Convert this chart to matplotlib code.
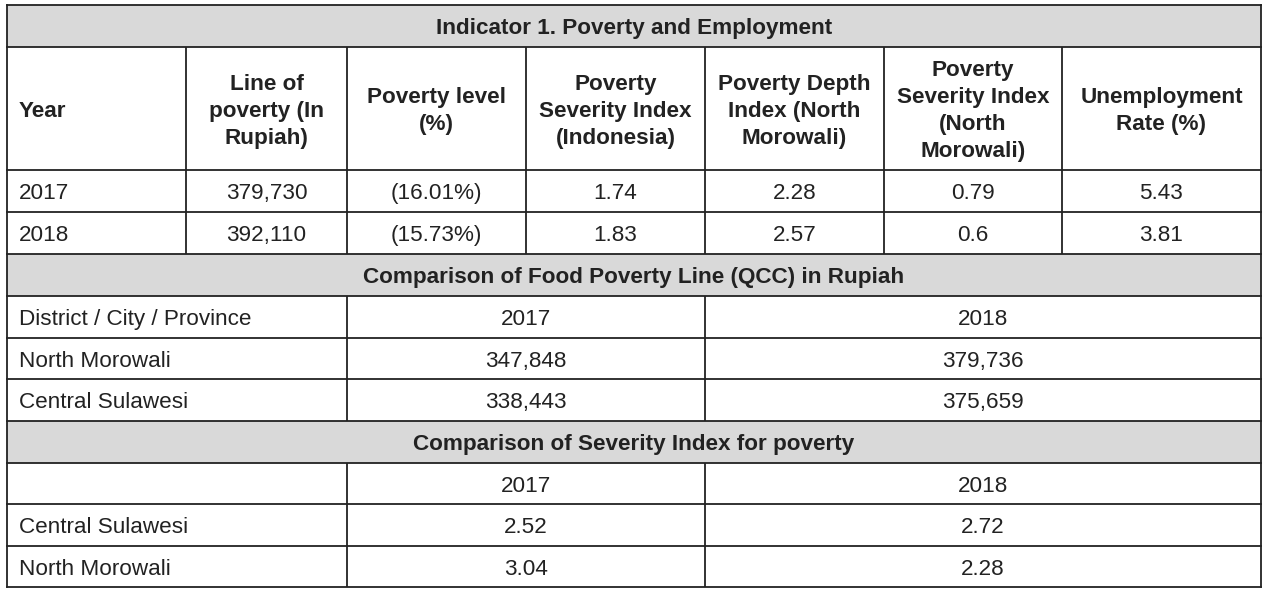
import matplotlib
matplotlib.use("Agg")
import matplotlib.pyplot as plt
from matplotlib.patches import Rectangle

plt.rcParams['font.family'] = ['Liberation Sans', 'DejaVu Sans']

# --- data ---
title1 = "Indicator 1. Poverty and Employment"
headers1 = ["Year", "Line of\npoverty (In\nRupiah)", "Poverty level\n(%)",
            "Poverty\nSeverity Index\n(Indonesia)", "Poverty Depth\nIndex (North\nMorowali)",
            "Poverty\nSeverity Index\n(North\nMorowali)", "Unemployment\nRate (%)"]
years = ["2017", "2018"]
line_of_poverty = ["379,730", "392,110"]
poverty_level = ["(16.01%)", "(15.73%)"]
severity_indonesia = ["1.74", "1.83"]
depth_north_morowali = ["2.28", "2.57"]
severity_north_morowali = ["0.79", "0.6"]
unemployment = ["5.43", "3.81"]

title2 = "Comparison of Food Poverty Line (QCC) in Rupiah"
header2 = ["District / City / Province", "2017", "2018"]
regions2 = ["North Morowali", "Central Sulawesi"]
fpl_2017 = ["347,848", "338,443"]
fpl_2018 = ["379,736", "375,659"]

title3 = "Comparison of Severity Index for poverty"
header3 = ["", "2017", "2018"]
regions3 = ["Central Sulawesi", "North Morowali"]
sev_2017 = ["2.52", "3.04"]
sev_2018 = ["2.72", "2.28"]

# --- layout (pixels) ---
W, H = 1269, 596
cols1 = [7, 186, 347, 526, 705, 884, 1062, 1261]
cols2 = [7, 347, 705, 1261]
rows = [5, 47, 170, 212, 254, 296, 338, 379, 421, 463, 504, 546, 587]
fs = 16.2
ink = "#222222"
grey = "#d9d9d9"
lw = 1.3
line_gap = 27   # px between baselines in multi-line headers
base_off = 8.3  # baseline below the row centre

fig = plt.figure(figsize=(W / 100, H / 100), dpi=100)
ax = fig.add_axes([0, 0, 1, 1])
ax.set_xlim(0, W)
ax.set_ylim(H, 0)
ax.axis("off")


def put(x, yc, text, ha, bold):
    lines = text.split("\n")
    n = len(lines)
    for i, s in enumerate(lines):
        y = yc + base_off + (i - (n - 1) / 2) * line_gap
        ax.text(x, y, s, ha=ha, va="baseline", fontsize=fs, color=ink,
                fontweight="bold" if bold else "normal")


def band(r, text):
    y0, y1 = rows[r], rows[r + 1]
    ax.add_patch(Rectangle((cols1[0], y0), cols1[-1] - cols1[0], y1 - y0,
                           facecolor=grey, edgecolor="none"))
    put((cols1[0] + cols1[-1]) / 2, (y0 + y1) / 2, text, "center", True)


def row_cells(r, cols, values, bold=False):
    y0, y1 = rows[r], rows[r + 1]
    for i, v in enumerate(values):
        if i == 0:
            put(cols[0] + 12, (y0 + y1) / 2, v, "left", bold)
        else:
            put((cols[i] + cols[i + 1]) / 2, (y0 + y1) / 2, v, "center", bold)
    for c in cols[1:-1]:
        ax.plot([c, c], [y0, y1], color=ink, lw=lw, solid_capstyle="butt")


# section 1
band(0, title1)
row_cells(1, cols1, headers1, bold=True)
for k in range(2):
    row_cells(2 + k, cols1, [years[k], line_of_poverty[k], poverty_level[k],
                             severity_indonesia[k], depth_north_morowali[k],
                             severity_north_morowali[k], unemployment[k]])

# section 2
band(4, title2)
row_cells(5, cols2, header2)
for k in range(2):
    row_cells(6 + k, cols2, [regions2[k], fpl_2017[k], fpl_2018[k]])

# section 3
band(8, title3)
row_cells(9, cols2, header3)
for k in range(2):
    row_cells(10 + k, cols2, [regions3[k], sev_2017[k], sev_2018[k]])

# horizontal rules and outer border
for y in rows:
    ax.plot([cols1[0], cols1[-1]], [y, y], color=ink, lw=lw, solid_capstyle="projecting")
for x in (cols1[0], cols1[-1]):
    ax.plot([x, x], [rows[0], rows[-1]], color=ink, lw=lw, solid_capstyle="projecting")

fig.savefig("out.png", dpi=100, facecolor="white")
